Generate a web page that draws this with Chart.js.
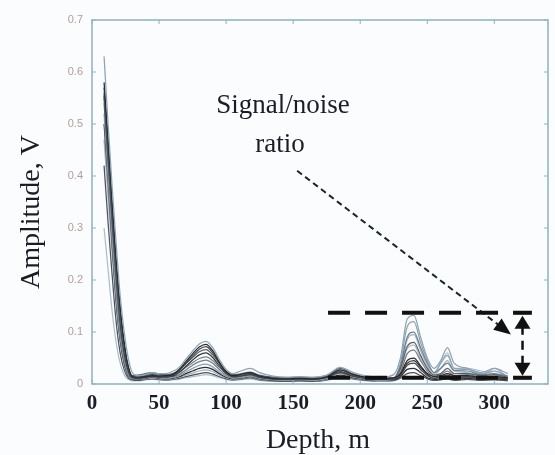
<!DOCTYPE html>
<html><head><meta charset="utf-8">
<script src="https://cdn.jsdelivr.net/npm/chart.js@4"></script>
<style>html,body{margin:0;padding:0;background:#fbfcfd}</style>
</head><body>
<canvas id="c" width="555" height="455"></canvas>
<script>
// Depth samples (m)
const depth = [9,12,15,18,21,24,27,30,34, 40,45,50,55,60,65,70,75,80,85,90,95,100,105,110, 118,125,135,145,155,165,175,185,195,205,215, 225,230,235,240,245,250,255,260,265,270, 280,290,300,310];

// Amplitude traces (V)
const trace01 = [0.63,0.50,0.38,0.27,0.17,0.10,0.05,0.022,0.016, 0.018,0.022,0.02,0.02,0.024,0.032,0.048,0.063,0.077,0.082,0.07,0.047,0.028,0.02,0.024, 0.03,0.022,0.015,0.013,0.014,0.013,0.017,0.032,0.022,0.015,0.013, 0.018,0.05,0.125,0.132,0.09,0.05,0.03,0.045,0.07,0.04, 0.03,0.022,0.03,0.02];
const trace02 = [0.58,0.47,0.35,0.24,0.15,0.08,0.035,0.015,0.013, 0.014,0.016,0.015,0.016,0.018,0.028,0.043,0.058,0.071,0.076,0.064,0.042,0.024,0.016,0.018, 0.022,0.015,0.011,0.01,0.011,0.01,0.013,0.027,0.018,0.013,0.011, 0.012,0.02,0.045,0.05,0.035,0.02,0.014,0.016,0.02,0.016, 0.016,0.012,0.014,0.012];
const trace03 = [0.57,0.46,0.34,0.23,0.14,0.075,0.03,0.013,0.012, 0.016,0.018,0.015,0.013,0.017,0.026,0.04,0.054,0.067,0.072,0.06,0.04,0.022,0.014,0.015, 0.02,0.013,0.01,0.009,0.01,0.009,0.014,0.022,0.015,0.011,0.009, 0.01,0.016,0.036,0.04,0.028,0.016,0.011,0.013,0.016,0.012, 0.013,0.01,0.012,0.01];
const trace04 = [0.56,0.45,0.33,0.22,0.13,0.07,0.032,0.016,0.017, 0.02,0.022,0.019,0.018,0.02,0.027,0.039,0.051,0.062,0.066,0.056,0.039,0.024,0.018,0.019, 0.023,0.017,0.013,0.012,0.013,0.012,0.016,0.03,0.019,0.013,0.012, 0.012,0.03,0.072,0.08,0.055,0.03,0.017,0.02,0.03,0.02, 0.02,0.016,0.018,0.013];
const trace05 = [0.555,0.44,0.32,0.21,0.12,0.06,0.026,0.012,0.011, 0.013,0.015,0.013,0.014,0.015,0.022,0.034,0.046,0.056,0.06,0.051,0.035,0.02,0.014,0.015, 0.018,0.013,0.01,0.009,0.01,0.009,0.013,0.024,0.015,0.011,0.009, 0.01,0.018,0.04,0.045,0.032,0.018,0.011,0.014,0.017,0.013, 0.014,0.011,0.012,0.01];
const trace06 = [0.55,0.43,0.31,0.20,0.11,0.055,0.022,0.014,0.015, 0.016,0.02,0.017,0.016,0.018,0.023,0.032,0.041,0.049,0.052,0.045,0.032,0.021,0.016,0.017, 0.02,0.015,0.012,0.011,0.012,0.011,0.015,0.026,0.017,0.012,0.011, 0.012,0.035,0.09,0.10,0.07,0.04,0.022,0.03,0.04,0.026, 0.025,0.018,0.02,0.015];
const trace07 = [0.54,0.42,0.30,0.19,0.10,0.05,0.02,0.011,0.01, 0.013,0.016,0.014,0.012,0.014,0.018,0.027,0.036,0.043,0.046,0.04,0.028,0.017,0.012,0.014, 0.017,0.012,0.009,0.008,0.009,0.008,0.012,0.022,0.014,0.01,0.008, 0.01,0.022,0.058,0.065,0.045,0.025,0.014,0.018,0.025,0.016, 0.018,0.013,0.015,0.011];
const trace08 = [0.52,0.40,0.28,0.17,0.09,0.045,0.018,0.01,0.01, 0.012,0.014,0.012,0.011,0.012,0.016,0.023,0.03,0.036,0.038,0.033,0.023,0.015,0.011,0.012, 0.015,0.011,0.008,0.007,0.008,0.007,0.011,0.02,0.013,0.009,0.007, 0.01,0.04,0.11,0.12,0.08,0.045,0.022,0.04,0.055,0.03, 0.028,0.02,0.025,0.015];
const trace09 = [0.50,0.39,0.27,0.16,0.085,0.04,0.016,0.009,0.009, 0.011,0.013,0.011,0.01,0.011,0.014,0.02,0.025,0.03,0.032,0.028,0.02,0.013,0.01,0.011, 0.014,0.01,0.007,0.006,0.007,0.006,0.01,0.017,0.012,0.008,0.007, 0.008,0.014,0.028,0.03,0.022,0.012,0.009,0.01,0.012,0.009, 0.011,0.009,0.01,0.008];
const trace10 = [0.47,0.36,0.25,0.15,0.08,0.035,0.015,0.009,0.009, 0.01,0.012,0.01,0.009,0.01,0.013,0.017,0.021,0.025,0.027,0.024,0.017,0.012,0.009,0.01, 0.013,0.009,0.007,0.006,0.007,0.006,0.009,0.015,0.011,0.008,0.006, 0.008,0.03,0.085,0.095,0.065,0.035,0.017,0.03,0.045,0.025, 0.022,0.016,0.03,0.012];
const trace11 = [0.42,0.31,0.21,0.12,0.06,0.028,0.012,0.008,0.007, 0.009,0.01,0.009,0.008,0.009,0.011,0.014,0.017,0.02,0.022,0.019,0.014,0.01,0.008,0.009, 0.012,0.008,0.006,0.005,0.006,0.005,0.008,0.014,0.01,0.007,0.006, 0.007,0.011,0.02,0.022,0.016,0.01,0.007,0.008,0.01,0.007, 0.009,0.007,0.008,0.006];
const trace12 = [0.30,0.22,0.14,0.08,0.04,0.018,0.009,0.006,0.006, 0.008,0.009,0.008,0.007,0.008,0.009,0.012,0.014,0.016,0.018,0.016,0.012,0.009,0.007,0.008, 0.01,0.007,0.005,0.005,0.006,0.005,0.007,0.012,0.009,0.006,0.005, 0.006,0.025,0.068,0.075,0.05,0.03,0.02,0.04,0.06,0.03, 0.03,0.025,0.02,0.01];

const traces = [trace01,trace02,trace03,trace04,trace05,trace06,trace07,trace08,trace09,trace10,trace11,trace12];
const traceColors = ['#8aa4b8','#2a2a2e','#45474c','#5c6268','#38393d','#71828f','#7b7e84','#8ea2b2','#2f3034','#9fb3c2','#505258','#adbfcc'];

// Axis ticks
const xTicks = [0,50,100,150,200,250,300];
const yTicks = [0,0.1,0.2,0.3,0.4,0.5,0.6,0.7];

// Signal/noise annotation (data units)
const snrLevels = [0.137, 0.012];      // signal level, noise level
const snrDepthRange = [176, 328];
const pointerStart = [153, 0.41];
const pointerEnd = [310, 0.10];
const arrowDepth = 321;
const arrowGap = [0.112, 0.04];

const serif = '"Liberation Serif", "DejaVu Serif", serif';
const ink = '#1b1c26';

const datasets = traces.map((t, k) => ({
  data: depth.map((x, i) => ({x, y: t[i]})),
  borderColor: traceColors[k], borderWidth: 1.25, pointRadius: 0,
  cubicInterpolationMode: 'monotone', fill: false
}));
snrLevels.forEach(lv => datasets.push({
  data: [{x: snrDepthRange[0], y: lv}, {x: snrDepthRange[1], y: lv}],
  borderColor: '#111', borderWidth: 4, borderDash: [22, 15], pointRadius: 0, order: -1
}));
datasets.push({
  data: [{x: pointerStart[0], y: pointerStart[1]}, {x: pointerEnd[0], y: pointerEnd[1]}],
  borderColor: '#1a2230', borderWidth: 2, borderDash: [6, 4], pointRadius: 0, order: -1
});
datasets.push({
  data: [{x: arrowDepth, y: arrowGap[0]}, {x: arrowDepth, y: arrowGap[1]}],
  borderColor: '#111', borderWidth: 2.5, borderDash: [9, 6], pointRadius: 0, order: -1
});

const decor = {
  id: 'decor',
  beforeDraw(chart) {
    const c = chart.ctx;
    c.save(); c.fillStyle = '#fbfcfd'; c.fillRect(0, 0, chart.width, chart.height); c.restore();
  },
  afterDatasetsDraw(chart) {
    const c = chart.ctx, a = chart.chartArea, xs = chart.scales.x, ys = chart.scales.y;
    c.save();
    // frame
    c.strokeStyle = '#8fb0c6'; c.lineWidth = 1.5;
    c.strokeRect(a.left, a.top, a.right - a.left, a.bottom - a.top);
    c.lineWidth = 1;
    xTicks.forEach(v => {
      const px = xs.getPixelForValue(v);
      c.beginPath(); c.moveTo(px, a.bottom); c.lineTo(px, a.bottom - 4);
      c.moveTo(px, a.top); c.lineTo(px, a.top + 4); c.stroke();
    });
    yTicks.forEach(v => {
      const py = ys.getPixelForValue(v);
      c.beginPath(); c.moveTo(a.left, py); c.lineTo(a.left + 4, py);
      c.moveTo(a.right, py); c.lineTo(a.right - 4, py); c.stroke();
    });
    // double arrow
    const ax = xs.getPixelForValue(arrowDepth);
    const yT = ys.getPixelForValue(snrLevels[0]), yB = ys.getPixelForValue(snrLevels[1]);
    c.fillStyle = '#111'; c.strokeStyle = '#111'; c.lineWidth = 3;
    c.beginPath(); c.moveTo(ax - 8, yT); c.lineTo(ax + 8, yT); c.moveTo(ax - 8, yB); c.lineTo(ax + 8, yB); c.stroke();
    c.beginPath(); c.moveTo(ax, yT + 3); c.lineTo(ax - 8, yT + 16); c.lineTo(ax + 8, yT + 16); c.closePath(); c.fill();
    c.beginPath(); c.moveTo(ax, yB - 2); c.lineTo(ax - 8, yB - 15); c.lineTo(ax + 8, yB - 15); c.closePath(); c.fill();
    // pointer arrowhead
    const sx = xs.getPixelForValue(pointerStart[0]), sy = ys.getPixelForValue(pointerStart[1]);
    const ex = xs.getPixelForValue(pointerEnd[0]), ey = ys.getPixelForValue(pointerEnd[1]);
    const ang = Math.atan2(ey - sy, ex - sx);
    c.translate(ex, ey); c.rotate(ang);
    c.beginPath(); c.moveTo(4, 0); c.lineTo(-13, -7); c.lineTo(-13, 7); c.closePath(); c.fill();
    c.restore();
    // texts
    c.save();
    c.fillStyle = ink; c.textAlign = 'center'; c.textBaseline = 'middle';
    c.font = '27px ' + serif;
    c.fillText('Signal/noise', 283, 106);
    c.fillText('ratio', 280, 145);
    c.font = '28px ' + serif;
    c.fillText('Depth, m', 318, 441);
    c.translate(32, 212); c.rotate(-Math.PI / 2);
    c.fillText('Amplitude, V', 0, 0);
    c.restore();
  }
};

new Chart(document.getElementById('c'), {
  type: 'line',
  data: { datasets },
  options: {
    responsive: false, animation: false, devicePixelRatio: 1,
    layout: { padding: { top: 20, right: 7, left: 0, bottom: 0 } },
    plugins: { legend: { display: false }, tooltip: { enabled: false } },
    scales: {
      x: {
        type: 'linear', min: 0, max: 340,
        grid: { display: false, drawTicks: false }, border: { display: false },
        afterBuildTicks: s => { s.ticks = xTicks.map(v => ({ value: v })); },
        afterFit: s => { s.height = 71; },
        ticks: { padding: 7, color: ink, font: { family: serif, size: 21, weight: 'bold' } }
      },
      y: {
        type: 'linear', min: 0, max: 0.7,
        grid: { display: false, drawTicks: false }, border: { display: false },
        afterBuildTicks: s => { s.ticks = yTicks.map(v => ({ value: v })); },
        afterFit: s => { s.width = 92; },
        ticks: { padding: 9, color: '#b49c98', font: { family: 'Liberation Sans, Arial, sans-serif', size: 11 } }
      }
    }
  },
  plugins: [decor]
});
</script>
</body></html>
